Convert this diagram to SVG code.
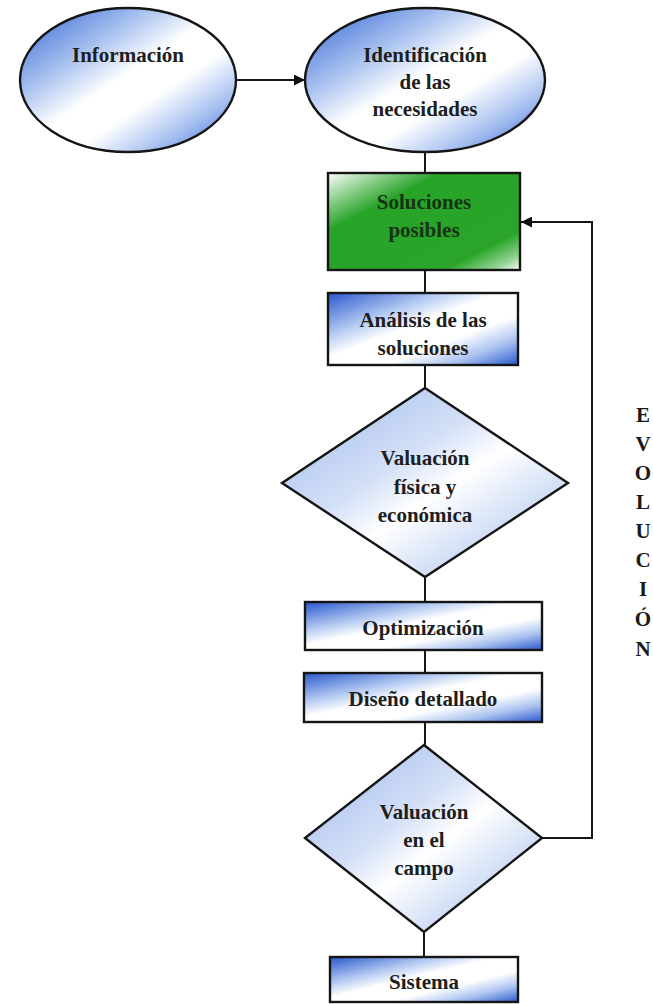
<svg xmlns="http://www.w3.org/2000/svg" width="653" height="1004" viewBox="0 0 653 1004">
  <defs>
    <linearGradient id="gEll" x1="0" y1="0" x2="1" y2="1">
      <stop offset="0" stop-color="#2c5fd2"/>
      <stop offset="0.3" stop-color="#a9c2ef"/>
      <stop offset="0.48" stop-color="#ffffff"/>
      <stop offset="0.62" stop-color="#ffffff"/>
      <stop offset="0.8" stop-color="#a6bff0"/>
      <stop offset="1" stop-color="#2c5fd2"/>
    </linearGradient>
    <linearGradient id="gBox" x1="0" y1="0" x2="1" y2="1">
      <stop offset="0" stop-color="#2857cc"/>
      <stop offset="0.3" stop-color="#b7ccf2"/>
      <stop offset="0.45" stop-color="#ffffff"/>
      <stop offset="0.65" stop-color="#ffffff"/>
      <stop offset="0.82" stop-color="#a9c1ef"/>
      <stop offset="1" stop-color="#2857cc"/>
    </linearGradient>
    <linearGradient id="gDia" x1="0" y1="0" x2="1" y2="1">
      <stop offset="0" stop-color="#9bb5ea"/>
      <stop offset="0.4" stop-color="#d4e0f7"/>
      <stop offset="0.55" stop-color="#ffffff"/>
      <stop offset="0.7" stop-color="#dce6f8"/>
      <stop offset="1" stop-color="#9bb5ea"/>
    </linearGradient>
    <linearGradient id="gGreen" x1="0" y1="0" x2="1" y2="1">
      <stop offset="0" stop-color="#ffffff"/>
      <stop offset="0.15" stop-color="#8fd08f"/>
      <stop offset="0.3" stop-color="#27a327"/>
      <stop offset="0.8" stop-color="#2aa52a"/>
      <stop offset="0.93" stop-color="#9ad69a"/>
      <stop offset="1" stop-color="#ffffff"/>
    </linearGradient>
    <marker id="arr" viewBox="0 0 10 10" refX="10" refY="5" markerWidth="11" markerHeight="11" markerUnits="userSpaceOnUse" orient="auto">
      <path d="M0,0 L10,5 L0,10 Z" fill="#111"/>
    </marker>
    <style>
      .shape { stroke: #151515; stroke-width: 2.4; }
      .lbl { font-family: "Liberation Serif", "Times New Roman", serif; font-weight: bold; font-size: 21px; fill: #1e1e1e; text-anchor: middle; }
      .glbl { fill: #143414; }
      .conn { stroke: #151515; stroke-width: 2; fill: none; }
      .evo { font-family: "Liberation Serif", "Times New Roman", serif; font-weight: bold; font-size: 21px; fill: #1a1a1a; text-anchor: middle; }
    </style>
  </defs>
  <rect width="653" height="1004" fill="#ffffff"/>

  <g id="connectors">
    <line class="conn" x1="236" y1="80" x2="305" y2="80" marker-end="url(#arr)"/>
    <line class="conn" x1="425" y1="152" x2="425" y2="173"/>
    <line class="conn" x1="425" y1="270" x2="425" y2="293"/>
    <line class="conn" x1="425" y1="365" x2="425" y2="388"/>
    <line class="conn" x1="425" y1="577" x2="425" y2="602"/>
    <line class="conn" x1="425" y1="650" x2="425" y2="673"/>
    <line class="conn" x1="425" y1="722" x2="425" y2="745"/>
    <line class="conn" x1="424" y1="932" x2="424" y2="957"/>
    <polyline class="conn" points="542,838 592,838 592,222 521,222" marker-end="url(#arr)"/>
  </g>

  <g id="informacion">
    <ellipse class="shape" cx="128" cy="80" rx="108" ry="72" fill="url(#gEll)"/>
    <text class="lbl" x="128" y="62">Información</text>
  </g>

  <g id="identificacion">
    <ellipse class="shape" cx="425" cy="80" rx="120" ry="72" fill="url(#gEll)"/>
    <text class="lbl" x="425" y="62">Identificación</text>
    <text class="lbl" x="425" y="89">de las</text>
    <text class="lbl" x="425" y="116">necesidades</text>
  </g>

  <g id="soluciones">
    <rect class="shape" x="328" y="173" width="192" height="97" fill="url(#gGreen)"/>
    <text class="lbl glbl" x="424" y="209">Soluciones</text>
    <text class="lbl glbl" x="424" y="237">posibles</text>
  </g>

  <g id="analisis">
    <rect class="shape" x="328" y="293" width="190" height="72" fill="url(#gBox)"/>
    <text class="lbl" x="423" y="327">Análisis de las</text>
    <text class="lbl" x="423" y="355">soluciones</text>
  </g>

  <g id="valuacion-fisica">
    <polygon class="shape" points="425,388 568,483 425,577 282,483" fill="url(#gDia)"/>
    <text class="lbl" x="425" y="465">Valuación</text>
    <text class="lbl" x="425" y="494">física y</text>
    <text class="lbl" x="425" y="522">económica</text>
  </g>

  <g id="optimizacion">
    <rect class="shape" x="305" y="602" width="237" height="48" fill="url(#gBox)"/>
    <text class="lbl" x="423" y="635">Optimización</text>
  </g>

  <g id="diseno">
    <rect class="shape" x="304" y="673" width="238" height="49" fill="url(#gBox)"/>
    <text class="lbl" x="423" y="706">Diseño detallado</text>
  </g>

  <g id="valuacion-campo">
    <polygon class="shape" points="424,745 542,838 424,932 305,838" fill="url(#gDia)"/>
    <text class="lbl" x="424" y="819">Valuación</text>
    <text class="lbl" x="424" y="847">en el</text>
    <text class="lbl" x="424" y="875">campo</text>
  </g>

  <g id="sistema">
    <rect class="shape" x="330" y="957" width="188" height="45" fill="url(#gBox)"/>
    <text class="lbl" x="424" y="989">Sistema</text>
  </g>

  <g id="evolucion">
    <text class="evo" x="643" y="422">E</text>
    <text class="evo" x="643" y="451">V</text>
    <text class="evo" x="643" y="480">O</text>
    <text class="evo" x="643" y="509">L</text>
    <text class="evo" x="643" y="538">U</text>
    <text class="evo" x="643" y="567">C</text>
    <text class="evo" x="643" y="596">I</text>
    <text class="evo" x="643" y="626">Ó</text>
    <text class="evo" x="643" y="656">N</text>
  </g>
</svg>
